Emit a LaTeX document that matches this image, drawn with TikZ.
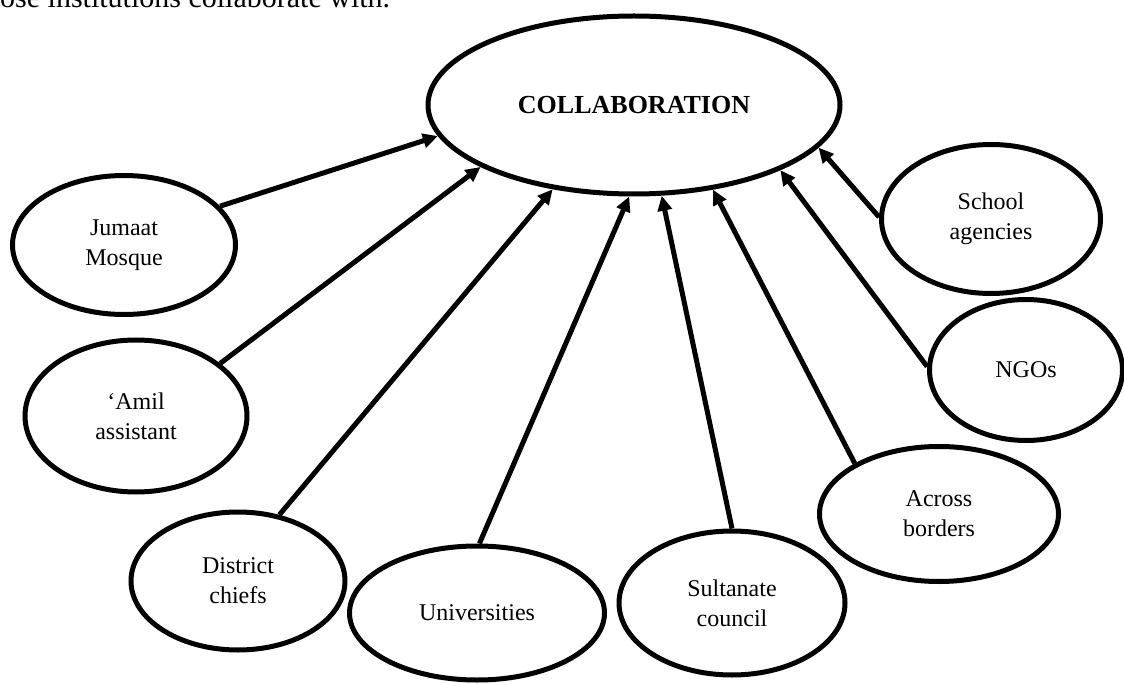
\documentclass[tikz,border=0pt]{standalone}
\usepackage{fontspec}
\setmainfont{Liberation Serif}
\usetikzlibrary{shapes.geometric,arrows.meta}
\begin{document}
\begin{tikzpicture}[x=1pt,y=-1pt,
  bubble/.style={ellipse,draw=black,line width=5pt,inner sep=0pt,align=center,
    font=\fontsize{24}{30}\selectfont},
  arr/.style={line width=5pt,-{Triangle[length=15pt,width=14pt]}}]
\path[use as bounding box] (0,0) rectangle (1124,684);
\clip (0,0) rectangle (1124,684);

\node[anchor=base west,inner sep=0pt,font=\fontsize{30}{36}\selectfont] (cap) at (0,8) {ose institutions collaborate with.};

\node[bubble,minimum width=412pt,minimum height=178pt,font=\fontsize{26}{30}\selectfont\bfseries] (collab) at (634,105) {COLLABORATION};

\node[bubble,minimum width=223pt,minimum height=139pt] (jumaat) at (124,245) {Jumaat\\Mosque};
\node[bubble,minimum width=222pt,minimum height=152pt] (amil) at (136,416) {‘Amil\\assistant};
\node[bubble,minimum width=214pt,minimum height=138pt] (district) at (238,581) {District\\chiefs};
\node[bubble,minimum width=255pt,minimum height=134pt] (univ) at (477,613) {Universities};
\node[bubble,minimum width=226pt,minimum height=144pt] (sultan) at (732,603) {Sultanate\\council};
\node[bubble,minimum width=239pt,minimum height=135pt] (across) at (939,514) {Across\\borders};
\node[bubble,minimum width=193pt,minimum height=141pt] (ngos) at (1026,370) {NGOs};
\node[bubble,minimum width=219pt,minimum height=149pt] (school) at (991,219) {School\\agencies};

\draw[arr] (jumaat.22) -- (collab.189.2);
\draw[arr] (amil.32.7) -- (collab.202.9);
\draw[arr] (district.58.7) -- (collab.226);
\draw[arr] (univ.88.4) -- (collab.267.5);
\draw[arr] (sultan.90.8) -- (collab.287.7);
\draw[arr] (across.149.6) -- (collab.313.7);
\draw[arr] (ngos.178.8) -- (collab.336.4);
\draw[arr] (school.179.5) -- (collab.347.7);
\end{tikzpicture}
\end{document}
